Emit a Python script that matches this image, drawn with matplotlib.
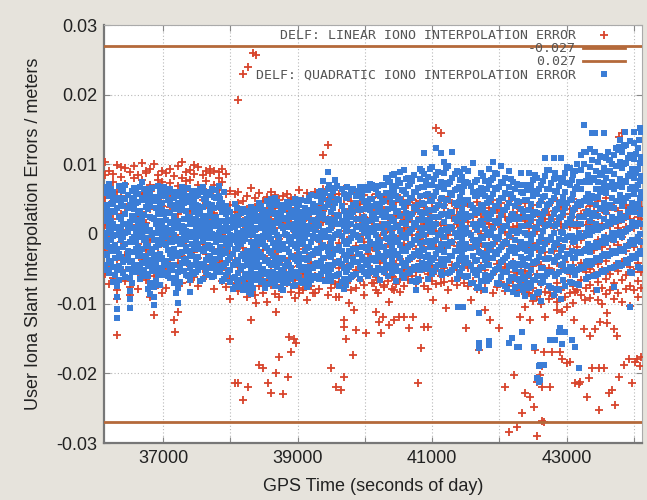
import matplotlib
matplotlib.use("Agg")
import matplotlib.pyplot as plt

# === Data (errors in millimetres, times in GPS seconds of day) ===
epochs = [
    36140, 36200, 36255, 36320, 36380, 36440, 36500, 36565, 36620, 36680, 36745, 36800, 36860, 36925, 36985,
    37040, 37100, 37165, 37220, 37280, 37340, 37405, 37460, 37520, 37585, 37640, 37700, 37760, 37825, 37880,
    37940, 38000, 38065, 38120, 38180, 38245, 38300, 38360, 38420, 38485, 38540, 38600, 38660, 38725, 38780,
    38840, 38900, 38965, 39020, 39080, 39140, 39205, 39260, 39320, 39380, 39445, 39500, 39560, 39620, 39685,
    39740, 39800, 39860, 39925, 39980, 40040, 40100, 40165, 40220, 40280, 40340, 40405, 40460, 40520, 40580,
    40645, 40700, 40760, 40820, 40885, 40940, 41000, 41060, 41125, 41180, 41240, 41300, 41365, 41420, 41480,
    41540, 41605, 41660, 41720, 41780, 41845, 41900, 41960, 42020, 42085, 42140, 42200, 42260, 42325, 42380,
    42440, 42500, 42565, 42620, 42680, 42740, 42805, 42860, 42920, 42980, 43045, 43100, 43160, 43220, 43285,
    43340, 43400, 43460, 43525, 43580, 43640, 43700, 43765, 43820, 43880, 43940, 44005, 44060, 44110,
]

quad_mm = [
    [6.8, 4.1, 1.9, -0.6, -2.8, -4.5, 3.0, -1.7], [5.5, 2.7, 0.4, -1.9, -3.9, 7.2, -5.6, 1.2],
    [4.6, 6.1, -0.3, -2.4, 1.5, -4.8, -6.9, 3.3], [3.8, 1.0, -2.1, -5.2, -7.4, -9.1, -10.8, -12.0],
    [6.3, 4.4, 2.2, -0.9, -3.3, 0.8, -5.0, 5.2], [5.0, 2.9, 0.1, -1.5, -3.7, -6.2, 7.0, 1.4],
    [4.2, 1.7, -1.1, -4.0, -6.3, -8.2, -9.4, -10.6], [6.6, 3.6, 0.9, -2.6, -4.9, 2.3, -0.4, 5.1],
    [5.8, 3.0, -0.2, -1.8, -3.1, -5.5, 4.6, 1.1], [7.4, 4.9, 2.4, 0.3, -2.2, -4.2, -6.0, 1.6],
    [3.9, 1.2, -1.4, -3.5, 5.6, -0.6, -5.7, 6.4], [6.0, 4.0, 0.6, -2.7, -4.6, -7.1, -8.6, 2.5],
    [4.8, 2.1, -0.8, -3.0, -5.3, -7.6, -9.0, -10.2], [5.3, 2.8, 0.2, -1.6, -3.6, 6.9, -5.9, 1.0],
    [6.4, 3.4, 1.4, -1.2, -3.4, -4.9, 4.5, -0.1],
    [5.7, 3.2, 0.8, -1.6, -3.9, -5.6, 2.0, -0.5], [6.5, 4.3, 1.6, -0.8, -2.9, -4.8, 3.0, -6.3],
    [5.1, 2.6, -0.1, -2.2, -4.4, -7.0, 1.2, 3.9], [4.4, 1.9, -0.7, -3.1, -5.4, -7.8, -9.9, 6.0],
    [6.8, 3.7, 1.1, -1.3, -2.6, -4.1, 0.3, 5.2], [5.4, 3.3, 0.5, -1.9, -3.6, -5.9, 2.1, -0.9],
    [4.9, 2.3, -0.3, -2.8, -4.9, -6.6, -8.3, 1.5], [6.2, 4.6, 1.8, -0.4, -2.1, -4.5, 3.1, -5.8],
    [5.6, 2.9, 0.4, -1.4, -3.3, -5.2, 1.0, 4.0], [6.7, 3.9, 1.3, -1.0, -2.5, -4.7, -6.4, 2.4],
    [4.7, 2.2, -0.2, -2.0, -3.8, -5.5, 5.8, 0.9], [6.1, 3.5, 0.7, -1.7, -3.2, -4.9, 2.6, -0.6],
    [5.3, 2.0, -0.5, -2.6, -4.3, -6.1, 3.7, 1.1], [6.9, 4.2, 1.5, -0.9, -2.4, -4.6, 0.2, 5.5],
    [4.5, 1.8, -0.6, -2.9, -4.7, -6.8, 3.2, 0.5],
    [4.0, 1.6, -0.8, -2.5, -4.2, -5.9, 2.8, -1.5], [3.1, 0.9, -1.4, -3.3, -5.1, -6.9, 1.8, -0.2],
    [4.3, 2.0, -0.3, -2.2, -4.0, -6.2, -7.6, 1.0], [2.6, 0.2, -1.9, -3.8, -5.6, -7.1, 1.3, -0.9],
    [3.6, 1.4, -1.0, -2.9, -4.6, -6.5, -8.1, 0.4], [2.2, -0.1, -2.4, -4.1, -5.8, -7.4, 3.3, 1.1],
    [3.9, 1.1, -1.2, -3.5, -5.3, -7.0, -8.6, 0.0], [2.9, 0.6, -1.6, -3.0, -4.8, -6.6, 1.9, -2.3],
    [4.4, 2.2, -0.4, -2.6, -4.4, -6.0, 0.8, -1.4], [3.4, 1.0, -1.1, -3.3, -5.0, -6.8, 2.4, -0.3],
    [4.8, 2.5, 0.1, -2.0, -3.7, -5.5, 1.3, -7.2], [3.7, 1.5, -0.7, -2.7, -4.5, -6.3, 5.0, 0.4],
    [5.2, 2.8, 0.3, -1.8, -3.9, -5.7, -7.5, 1.6], [4.1, 1.9, -0.5, -2.3, -4.1, -6.4, 3.0, -1.2],
    [3.5, 0.8, -1.5, -3.4, -5.2, -6.9, -8.0, 2.1],
    [4.6, 2.1, -0.2, -2.2, -4.0, -5.8, 1.0, -7.1], [3.3, 1.2, -1.3, -3.1, -4.9, -6.5, 2.5, -0.4],
    [5.0, 2.7, 0.4, -1.7, -3.6, -5.4, -7.3, 1.5], [4.2, 1.6, -0.9, -2.8, -4.5, -6.2, 3.1, 0.2],
    [3.0, 0.7, -1.5, -3.4, -5.2, -7.0, 1.9, -0.6], [4.7, 2.4, 0.0, -2.0, -3.8, -5.9, 1.2, -7.6],
    [5.6, 3.4, 1.0, -1.1, -3.0, -4.8, -6.6, 2.0], [4.0, 1.8, -0.6, -2.5, -4.3, -6.1, 3.2, 0.6],
    [6.1, 3.6, 1.2, -0.9, -2.7, -4.6, -6.4, 2.3], [5.1, 2.9, 0.5, -1.6, -3.5, -5.3, 7.6, -0.4],
    [6.4, 4.2, 1.7, -0.5, -2.4, -4.4, 8.9, -6.2], [5.4, 3.1, 0.8, -1.3, -3.3, -5.0, -6.8, 1.9],
    [6.6, 4.5, 2.0, -0.2, -2.1, -4.1, -6.0, 7.7], [4.9, 2.6, 0.3, -1.9, -3.9, -5.7, -7.4, 1.4],
    [5.8, 3.3, 1.1, -1.0, -3.0, -4.9, -6.5, -7.9],
    [5.2, 3.0, 0.6, -1.4, -3.2, -5.1, 6.7, 1.7], [6.0, 3.7, 1.4, -0.6, -2.6, -4.5, -6.2, 2.5],
    [4.4, 2.2, -0.1, -2.1, -4.0, -5.8, 1.0, 5.5], [5.7, 3.4, 1.2, -0.8, -2.8, -4.7, 6.8, -6.4],
    [4.8, 2.5, 0.2, -1.8, -3.7, -5.5, 1.6, 3.6], [6.3, 4.1, 1.8, -0.3, -2.3, -4.2, -6.0, 0.9],
    [5.0, 2.8, 0.5, -1.5, -3.4, -5.3, 7.1, 2.0], [6.5, 4.3, 2.1, -0.1, -2.0, -3.9, -5.7, 1.1],
    [5.4, 3.1, 0.9, -1.2, -3.1, -5.0, 3.9, -6.6], [7.0, 4.7, 2.4, 0.2, -1.8, -3.6, -5.4, 1.5],
    [5.9, 3.6, 1.3, -0.7, -2.7, -4.6, 7.8, -6.1], [6.8, 4.5, 2.2, 0.0, -2.0, -3.9, -5.6, 8.4],
    [5.5, 3.2, 1.0, -1.1, -3.0, -4.8, 6.9, -6.7], [7.3, 5.0, 2.6, 0.4, -1.6, -3.5, 8.9, -5.3],
    [6.2, 3.9, 1.6, -0.5, -2.5, -4.4, -6.3, 9.2],
    [6.9, 4.6, 2.3, 0.1, -1.9, -3.8, -5.6, 8.1], [7.6, 5.2, 2.9, 0.7, -1.4, -3.3, -5.2, -6.8],
    [6.0, 3.6, 1.3, -0.9, -3.0, -5.0, -6.9, -8.1], [7.9, 5.5, 3.1, 0.8, -1.3, -3.2, -5.1, 9.4],
    [6.7, 4.3, 2.0, -0.2, -2.3, -4.3, 11.6, 8.6], [8.2, 5.8, 3.4, 1.1, -1.0, -3.0, -4.9, -6.5],
    [7.1, 4.8, 2.5, 0.3, -1.8, -3.8, -5.7, 9.6], [8.5, 6.1, 3.7, 1.4, -0.8, -2.8, 12.3, -4.7],
    [7.4, 5.0, 2.7, 0.4, -1.7, -3.6, 11.6, -5.5], [8.8, 6.4, 4.0, 1.7, -0.5, -2.6, -4.5, 10.3],
    [7.2, 4.9, 2.6, 0.4, -1.7, -3.7, 9.7, -5.6], [8.0, 5.6, 3.2, 0.9, -1.2, -3.2, 11.8, -5.1],
    [6.5, 4.1, 1.8, -0.4, -2.5, -4.5, 9.0, -6.4], [7.7, 5.3, 2.9, 0.6, -1.5, -3.5, -5.4, 8.9],
    [6.9, 4.5, 2.2, 0.0, -2.1, -4.1, 9.4, -6.0],
    [7.3, 4.9, 2.5, 0.2, -2.0, -4.1, -6.1, 9.1], [6.1, 3.7, 1.4, -0.9, -3.1, -5.2, 10.2, -7.0],
    [7.8, 5.4, 3.0, 0.6, -1.7, -3.8, -5.9, -7.7], [6.6, 4.2, 1.8, -0.5, -2.7, -4.8, 8.7, -6.8],
    [5.4, 3.0, 0.7, -1.6, -3.8, -5.9, 7.6, -8.0], [7.0, 4.6, 2.2, -0.1, -2.3, -4.4, -6.5, 9.3],
    [8.1, 5.7, 3.3, 0.9, -1.4, -3.5, 10.3, -5.6], [6.4, 4.0, 1.6, -0.7, -2.9, -5.0, -7.1, 8.6],
    [7.5, 5.1, 2.7, 0.4, -1.9, -4.0, 9.8, -6.2], [5.9, 3.5, 1.1, -1.2, -3.4, -5.5, -7.5, 8.0],
    [6.8, 4.4, 2.0, -0.3, -2.5, -4.6, -6.7, 9.0], [5.2, 2.8, 0.4, -1.9, -4.1, -6.2, 7.4, -8.3],
    [7.2, 4.8, 2.4, 0.1, -2.2, -4.3, -6.4, -8.6], [6.0, 3.6, 1.2, -1.1, -3.3, -5.4, 8.8, -7.4],
    [4.9, 2.5, 0.1, -2.2, -4.4, -6.5, 7.0, -8.9],
    [6.3, 3.5, 1.3, -1.4, -3.4, -5.9, -7.7, 8.7], [7.7, 5.5, 2.7, 0.0, -2.0, -4.2, -6.6, -9.1],
    [5.8, 3.0, 0.8, -1.9, -3.9, -6.1, 8.1, -8.4], [7.0, 4.8, 2.0, -0.4, -2.4, -4.9, -7.0, -9.6],
    [8.3, 5.5, 3.3, 1.2, -1.4, -3.6, 10.9, -6.0], [6.5, 4.3, 1.5, -0.9, -3.5, -5.4, -7.5, 9.2],
    [7.9, 5.1, 2.9, 0.2, -1.8, -4.0, 10.9, -8.7], [6.1, 3.6, 1.4, -1.3, -3.3, -5.8, -7.9, 8.0],
    [7.4, 4.6, 2.4, 0.3, -2.3, -4.5, 10.9, -9.3], [8.8, 6.0, 3.8, 1.1, -0.9, -3.4, -5.2, -7.4],
    [7.1, 4.9, 2.1, -0.3, -2.9, -4.8, 9.5, -6.9], [8.5, 5.7, 3.5, 1.4, -1.2, -3.4, 9.0, -5.5],
    [6.8, 4.3, 1.5, -0.6, -2.6, -5.1, -7.2, 10.1], [9.2, 6.4, 4.2, 1.5, -0.5, -2.7, -4.8, 11.3],
    [7.6, 5.1, 2.9, 0.2, -2.1, -4.0, 11.8, -6.4],
    [9.6, 7.4, 4.6, 1.9, -0.1, -2.6, -4.4, 12.2], [8.0, 5.2, 3.0, 0.9, -1.7, -3.9, 11.8, -6.0],
    [10.3, 7.5, 5.3, 2.6, 0.6, -1.9, -3.7, -5.8], [8.7, 6.5, 3.7, 1.0, -1.0, -3.2, 11.1, -5.3],
    [10.9, 8.1, 5.9, 3.2, 1.2, -1.3, -3.1, -5.2], [9.1, 6.9, 4.1, 1.4, -0.6, -2.8, 10.6, -4.9],
    [11.4, 8.6, 6.4, 3.7, 1.7, -0.8, -2.6, -4.7], [9.8, 7.0, 4.8, 2.1, 0.1, -2.4, 12.0, -4.2],
    [11.7, 9.5, 6.7, 4.0, 2.0, -0.5, -2.3, -4.4], [10.2, 7.4, 5.2, 2.5, 0.5, -1.7, 12.8, -3.8],
    [8.6, 6.4, 3.6, 0.9, -1.1, -3.6, 11.3, -5.4], [10.8, 8.0, 5.8, 3.1, 1.1, -1.4, -3.2, 13.1],
    [9.3, 7.1, 4.3, 1.6, -0.4, -2.9, 12.4, -4.8], [11.1, 8.3, 6.1, 3.4, 1.4, -1.1, -2.9, 14.6],
]

# second set of quadratic-error epochs, between the ones above
epochs_b = [
    36170, 36228, 36288, 36350, 36410, 36470, 36532, 36592, 36650, 36712, 36772, 36830, 36892, 36955, 37012,
    37070, 37132, 37192, 37250, 37310, 37372, 37432, 37490, 37552, 37612, 37670, 37730, 37792, 37852, 37910,
    37970, 38032, 38092, 38150, 38212, 38272, 38330, 38390, 38452, 38512, 38570, 38630, 38692, 38752, 38810,
    38870, 38932, 38992, 39050, 39110, 39172, 39232, 39290, 39350, 39412, 39472, 39530, 39590, 39652, 39712,
    39770, 39830, 39892, 39952, 40010, 40070, 40132, 40192, 40250, 40310, 40372, 40432, 40490, 40550, 40612,
    40672, 40730, 40790, 40852, 40912, 40970, 41030, 41092, 41152, 41210, 41270, 41332, 41392, 41450, 41510,
    41572, 41632, 41690, 41750, 41812, 41872, 41930, 41990, 42052, 42112, 42170, 42230, 42292, 42352, 42410,
    42470, 42532, 42592, 42650, 42710, 42772, 42832, 42890, 42950, 43012, 43072, 43130, 43190, 43252, 43312,
    43370, 43430, 43492, 43552, 43610, 43670, 43732, 43792, 43850, 43910, 43972, 44032, 44085,
]

quad_mm_b = [
    [5.9, 3.5, 0.2, -1.3, -3.0, -5.1, 2.4], [6.4, 1.8, -0.9, -2.5, -4.2, 4.3, 0.6],
    [3.1, 5.2, -1.6, -3.4, -5.9, 0.9, -0.2], [6.9, 2.5, 0.0, -2.9, -4.6, -6.6, 4.9],
    [4.0, 1.4, -0.5, -1.9, -4.0, -5.6, 6.2], [5.6, 3.8, 1.1, -2.4, -3.3, -5.0, 0.3],
    [6.2, 4.7, 2.6, -0.7, -3.9, -5.4, -7.0], [4.4, 2.0, -1.2, -2.2, -4.4, 6.0, 0.5],
    [6.7, 3.3, 1.7, -0.4, -2.6, -4.8, -6.4], [5.1, 2.7, -0.8, -3.2, -5.2, 6.5, 0.8],
    [4.7, 3.6, 0.4, -1.7, -4.3, -6.1, -7.9], [6.6, 2.3, -0.1, -2.1, -3.7, 5.3, -5.2],
    [3.7, 1.5, -1.9, -4.5, -6.7, 5.0, 0.2], [6.0, 4.2, 1.9, -0.9, -2.8, -5.0, -7.3],
    [5.4, 2.9, 0.7, -1.5, -4.1, -5.9, 6.8],
    [4.9, 3.0, 0.1, -2.3, -4.5, 6.2, -6.0], [6.0, 1.7, -1.2, -3.5, -5.1, 4.1, 0.6],
    [5.5, 3.6, 0.9, -1.0, -3.0, -6.3, -8.4], [3.5, 1.2, -1.5, -2.7, -4.8, 5.9, -6.9],
    [6.3, 4.4, 2.2, -0.5, -3.7, -5.3, 1.0], [4.6, 2.4, -0.4, -2.4, -4.1, 6.6, -6.1],
    [5.8, 3.9, 1.5, -1.4, -3.1, -5.7, 0.3], [4.2, 2.1, -0.8, -3.6, -5.5, 5.4, 0.7],
    [6.5, 3.3, 1.9, -0.3, -2.2, -4.3, -6.7], [5.0, 2.6, -0.6, -2.5, -4.6, 6.1, 0.5],
    [4.3, 1.6, 0.2, -1.6, -3.4, -5.9, 5.6], [6.4, 4.1, 1.2, -2.2, -4.0, -6.2, 0.0],
    [5.2, 2.5, -0.1, -1.2, -3.6, -5.1, 6.3], [3.9, 1.9, -1.8, -3.3, -5.4, 5.0, 0.8],
    [6.1, 3.7, 0.9, -0.8, -2.7, -4.4, -6.5],
    [3.4, 0.5, -1.9, -3.7, -5.5, 2.0, -0.6], [2.5, 1.2, -0.9, -2.8, -4.4, -6.3, -7.9],
    [3.8, 0.1, -2.2, -4.3, -6.6, 1.6, -1.1], [1.9, -0.5, -1.5, -3.1, -5.0, -7.6, 3.0],
    [3.1, 1.7, -0.7, -3.6, -5.9, -7.3, 0.3], [2.7, 0.3, -2.8, -4.5, -6.2, -8.3, 1.5],
    [3.5, 2.0, -0.2, -2.0, -4.0, -6.1, -7.7], [2.1, -0.8, -2.5, -3.9, -5.7, 3.6, 0.8],
    [4.0, 1.3, -1.0, -3.0, -5.1, -6.9, 2.6], [2.8, 0.4, -1.7, -3.9, -5.8, -7.7, 1.9],
    [4.3, 1.9, -0.5, -2.4, -4.2, -6.0, 3.2], [3.0, 0.9, -1.3, -3.2, -5.4, -7.0, 4.2],
    [4.6, 2.4, -0.1, -1.5, -3.4, -4.8, -6.6], [3.6, 1.1, -1.9, -3.6, -5.6, -7.8, 2.7],
    [4.1, 2.3, 0.0, -2.1, -4.6, -6.3, 1.0],
    [3.9, 1.3, -1.0, -2.6, -4.4, -6.4, 2.7], [4.5, 2.9, 0.7, -1.4, -3.3, -5.7, -7.5],
    [3.6, 0.9, -2.0, -3.9, -6.0, 2.2, -0.3], [4.9, 2.5, 0.2, -1.3, -3.6, -5.1, -6.9],
    [3.8, 1.1, -0.6, -2.4, -4.7, -6.7, 2.6], [5.2, 3.0, 0.9, -1.9, -3.4, -5.5, -7.2],
    [4.3, 2.0, -0.3, -2.9, -4.9, 0.7, -6.3], [5.5, 3.4, 1.5, -0.5, -2.2, -4.2, -6.0],
    [4.6, 2.6, 0.1, -2.0, -3.9, -5.8, 6.2], [5.9, 3.9, 2.2, -0.1, -1.9, -4.7, -6.8],
    [4.8, 2.2, 0.6, -1.8, -3.1, -5.6, 7.0], [6.2, 3.8, 1.5, -0.6, -2.8, -4.5, -6.1],
    [5.0, 2.7, 0.0, -2.3, -4.1, -5.9, 6.9], [6.5, 4.0, 1.9, -0.3, -2.5, -4.3, -6.9],
    [5.3, 2.4, 0.5, -1.5, -3.8, -5.5, -7.3],
    [5.6, 2.9, 1.4, -1.0, -2.5, -4.8, -6.5], [4.2, 3.1, 0.3, -2.2, -3.6, -5.9, 6.4],
    [6.2, 3.6, 2.1, -0.4, -2.9, -4.0, 1.1], [5.1, 2.2, 0.7, -1.8, -3.3, -5.2, 5.9],
    [6.8, 4.3, 1.5, 0.4, -2.0, -4.4, -5.8], [5.0, 3.4, 0.8, -1.2, -3.7, -5.0, 7.2],
    [6.6, 4.0, 2.9, 0.3, -1.4, -3.6, -5.4], [5.7, 3.5, 0.9, -0.8, -2.8, -4.9, 6.9],
    [7.1, 4.6, 2.7, 1.0, -1.9, -3.3, -5.2], [5.9, 3.2, 1.4, -0.6, -2.6, -4.5, 8.0],
    [7.4, 5.3, 2.4, 0.9, -1.1, -3.0, -4.9], [6.1, 3.8, 1.9, -0.5, -2.4, -4.6, 8.6],
    [7.7, 5.0, 3.3, 1.2, -0.9, -2.8, -5.3], [6.3, 4.4, 1.6, -0.2, -2.2, -4.1, -5.9],
    [7.9, 5.8, 3.0, 1.4, -0.6, -2.5, -4.6],
    [7.2, 5.1, 2.6, 0.5, -1.6, -3.5, -5.5], [8.4, 6.0, 3.9, 1.6, -0.9, -2.9, -4.8],
    [6.6, 4.2, 2.0, -0.3, -2.4, -4.6, -6.4], [9.0, 6.7, 4.4, 2.3, 0.0, -2.1, -4.2],
    [7.6, 5.6, 3.0, 0.9, -1.2, -3.3, -5.0], [9.3, 7.0, 4.8, 2.0, 0.4, -1.8, -4.0],
    [7.9, 5.4, 3.5, 1.2, -1.0, -3.4, -5.3], [8.9, 6.8, 4.1, 2.5, -0.2, -2.3, -4.4],
    [7.0, 5.2, 2.8, 0.6, -1.5, -3.9, -5.9], [9.5, 7.3, 4.9, 2.8, 0.7, -1.4, -3.6],
    [7.5, 5.9, 3.2, 1.0, -1.1, -3.1, -5.4], [8.6, 6.3, 4.5, 2.1, 0.1, -2.5, -4.6],
    [6.8, 4.6, 2.4, 0.2, -1.9, -3.8, -5.8], [8.2, 6.1, 3.6, 1.5, -0.7, -2.7, -4.9],
    [7.4, 4.9, 2.9, 0.8, -1.4, -3.5, -6.2],
    [6.9, 4.1, 2.6, -0.2, -2.0, -4.6, -7.1], [7.5, 5.5, 3.0, 1.2, -1.2, -3.9, -5.6],
    [6.2, 3.4, 1.5, -0.9, -2.6, -5.2, -7.6], [8.3, 5.7, 3.9, 1.3, -0.6, -3.1, -4.8],
    [6.5, 4.4, 2.3, -0.1, -2.9, -4.5, -6.8], [7.8, 5.1, 2.8, 0.3, -1.6, -3.4, -6.0],
    [8.7, 6.6, 4.0, 1.9, -0.5, -2.6, -5.2], [6.8, 4.7, 1.8, -0.5, -2.3, -4.8, -7.2],
    [7.3, 5.2, 3.4, 0.8, -1.4, -3.7, -5.5], [5.7, 3.9, 1.2, -1.3, -3.2, -5.5, -7.9],
    [7.9, 5.8, 2.6, 0.5, -1.9, -4.3, -6.3], [6.4, 4.0, 2.1, -0.9, -2.7, -5.0, -7.6],
    [7.1, 4.6, 2.2, 0.4, -2.0, -4.4, -6.6], [5.9, 3.3, 1.1, -1.4, -3.6, -6.2, -8.1],
    [6.7, 4.9, 2.4, -0.2, -2.5, -4.6, -7.0],
    [7.1, 4.3, 2.0, -0.8, -2.9, -5.2, -7.4], [8.4, 6.2, 3.1, 0.8, -1.9, -4.0, -6.6],
    [6.4, 4.1, 1.7, -1.2, -3.3, -6.0, -8.3], [7.6, 5.3, 2.8, 0.5, -2.2, -4.9, -6.9],
    [9.2, 6.4, 4.1, 1.3, -0.9, -3.6, -5.7], [7.3, 4.8, 2.2, -0.4, -2.5, -5.5, -7.7],
    [8.8, 6.2, 3.4, 1.1, -1.3, -3.8, -6.1], [6.9, 4.4, 2.3, -0.7, -3.1, -5.4, -8.0],
    [8.1, 5.3, 3.0, 0.2, -1.9, -4.3, -6.6], [9.6, 7.3, 4.5, 1.6, -0.5, -2.9, -5.3],
    [7.7, 5.0, 2.6, -0.3, -2.4, -4.8, -7.1], [9.0, 6.5, 3.7, 1.4, -1.0, -3.4, -5.9],
    [7.5, 4.6, 2.4, 0.1, -2.6, -5.0, -7.3], [10.1, 7.5, 4.7, 2.4, -0.3, -2.4, -4.9],
    [8.5, 5.7, 3.3, 0.9, -1.5, -3.9, -6.2],
    [10.6, 7.7, 5.4, 2.6, 0.5, -1.9, -4.3], [9.0, 6.4, 4.2, 1.4, -1.3, -3.5, -5.9],
    [11.2, 8.4, 6.1, 3.6, 0.8, -1.3, -3.8], [9.5, 7.3, 4.4, 2.2, -0.5, -2.9, -5.4],
    [11.8, 9.0, 6.7, 3.9, 1.7, -0.7, -3.2], [10.0, 7.5, 5.2, 2.4, 0.2, -2.5, -4.9],
    [12.3, 9.8, 6.9, 4.7, 1.9, -0.2, -2.7], [10.4, 7.9, 5.6, 2.8, 0.3, -2.1, -4.6],
    [12.7, 10.1, 7.6, 4.7, 2.5, 0.3, -2.4], [10.9, 8.3, 5.5, 3.2, 0.7, -1.7, -4.2],
    [9.3, 6.8, 4.5, 1.7, -0.8, -3.2, -5.6], [11.5, 8.7, 6.4, 3.9, 1.1, -1.0, -3.5],
    [10.2, 7.6, 5.1, 2.8, 0.0, -2.4, -4.9],
]

lin_mm = [
    [10.3, 8.4, 5.2, 1.3, -2.5, -5.8], [9.1, 6.7, 3.4, -0.8, -4.4, -7.2], [8.6, 7.5, 2.1, -1.9, -6.3, 4.8],
    [9.9, 6.1, 0.6, -3.7, -8.1, -9.3], [8.2, 5.5, 2.9, -1.2, -5.1, 9.6], [9.5, 7.2, 3.8, 0.2, -3.0, -6.8],
    [8.9, 4.3, 1.0, -2.7, -7.6, -8.8], [9.8, 8.0, 4.6, 0.9, -4.1, 6.2], [8.4, 6.4, 2.5, -1.5, -5.4, -7.9],
    [10.2, 7.7, 3.1, -0.4, -3.8, 5.7], [8.7, 5.9, 1.6, -2.3, -6.6, 9.0], [9.3, 7.0, 3.6, -0.9, -4.7, -9.0],
    [10.0, 6.6, 2.2, -3.4, -6.0, -11.6], [8.5, 5.0, 1.1, -1.8, -7.3, 7.8], [9.0, 7.4, 4.0, 0.5, -4.9, -8.4],
    [8.8, 6.0, 2.7, -1.1, -5.3, -7.7], [9.4, 7.3, 3.9, 0.1, -3.6, 5.1], [8.3, 5.6, 1.8, -2.4, -6.5, -12.3],
    [9.7, 6.9, 2.9, -0.6, -4.2, -11.2], [10.3, 8.1, 4.4, 0.8, -3.1, -7.0], [8.9, 6.2, 2.3, -1.7, -5.6, 7.6],
    [9.2, 7.8, 3.3, -0.2, -4.6, -6.9], [8.6, 5.3, 1.4, -2.6, -6.2, 9.9], [9.6, 7.1, 3.7, 0.3, -3.4, -7.4],
    [8.4, 6.5, 2.0, -1.4, -5.0, 4.9], [9.0, 7.6, 4.2, 0.6, -2.9, -6.1], [8.7, 5.8, 2.6, -1.9, -4.5, 9.3],
    [9.1, 7.0, 3.0, -0.7, -5.7, -7.9], [8.9, 6.3, 1.7, -2.1, -4.0, 8.0], [9.3, 7.5, 3.5, 0.0, -3.9, -6.7],
    [8.6, 5.8, 2.2, -1.8, -5.2, -7.6], [6.2, 4.1, 0.7, -2.9, -6.4, -9.4], [5.7, 3.2, -0.6, -3.8, -7.1, 2.0],
    [6.0, 2.6, -1.3, -4.7, -8.2, 4.4], [4.8, 1.9, -2.0, -5.5, -6.8, 0.5], [5.5, 3.6, 0.2, -3.2, -6.9, -9.0],
    [6.6, 2.9, -0.9, -4.3, -7.7, 1.2], [5.1, 3.9, 0.4, -2.7, -6.0, -8.8], [5.9, 2.4, -1.7, -4.9, -7.4, 4.0],
    [4.7, 1.5, -2.3, -5.8, -8.4, 3.0], [5.3, 3.4, -0.3, -3.6, -6.7, -9.7], [6.1, 2.1, -1.0, -4.4, -7.3, 4.8],
    [5.6, 3.7, 0.9, -2.8, -6.2, -8.6], [4.9, 2.8, -0.7, -4.0, -7.8, 1.6], [5.4, 1.7, -1.9, -5.2, -6.5, 3.8],
    [5.8, 3.1, -0.4, -3.9, -7.0, 1.4], [4.6, 2.3, -1.2, -4.8, -8.3, 5.2], [5.2, 3.8, 0.3, -3.1, -6.6, -9.2],
    [6.3, 2.7, -1.5, -4.6, -7.7, 0.9], [5.0, 1.8, -2.2, -5.7, -8.0, 3.5], [5.9, 3.5, 0.0, -3.4, -6.8, -9.5],
    [4.4, 2.0, -0.8, -4.2, -7.4, 5.6], [6.0, 3.9, 0.6, -2.9, -6.1, -8.5], [5.5, 2.5, -1.0, -4.5, -7.9, 4.1],
    [6.4, 3.3, -0.2, -3.7, -6.3, 1.7], [5.1, 2.2, -1.6, -5.0, -8.7, 4.7], [6.2, 4.0, 0.8, -2.6, -5.9, -7.8],
    [4.9, 2.6, -0.5, -4.1, -7.2, 5.8], [5.7, 3.0, -1.3, -4.9, -6.9, -9.0], [6.5, 4.3, 0.4, -3.3, -7.5, 1.9],
    [5.4, 2.8, -0.9, -4.4, -7.1, 1.0], [4.7, 3.6, 0.2, -3.0, -6.3, -8.1], [5.9, 2.1, -1.7, -5.2, -7.8, 4.0],
    [4.3, 3.1, -0.4, -3.8, -6.6, 1.5], [5.6, 2.4, -1.1, -4.7, -7.3, -8.8], [4.9, 3.7, 0.5, -2.8, -5.9, 1.9],
    [5.2, 1.9, -1.8, -5.0, -7.0, 3.4], [5.8, 4.2, 0.9, -2.4, -6.2, -8.0], [4.5, 2.9, -0.6, -4.1, -6.9, 1.3],
    [5.3, 3.4, 0.1, -3.5, -5.5, -7.6], [4.8, 2.2, -1.4, -4.6, -6.7, 0.7], [5.5, 3.9, 0.6, -2.9, -6.0, -7.9],
    [4.6, 2.6, -0.8, -4.3, -7.2, 1.6], [5.1, 3.2, -0.3, -3.6, -6.4, -8.3], [4.4, 2.0, -1.6, -5.1, -7.5, 0.8],
    [4.2, 1.8, -1.5, -4.8, -6.6, 0.6], [5.0, 2.9, -0.2, -3.4, -6.0, 1.7], [3.6, 1.2, -2.1, -5.4, -7.0, 4.4],
    [4.7, 2.5, -0.7, -3.9, -6.3, 0.3], [3.9, 1.4, -1.9, -5.0, -7.4, 2.2], [5.2, 3.0, 0.1, -3.1, -5.8, -7.9],
    [4.4, 2.1, -1.1, -4.5, -6.8, 1.0], [3.7, 1.6, -1.8, -5.3, -7.2, 0.4], [4.9, 2.7, -0.4, -3.7, -6.1, 1.3],
    [4.1, 1.3, -2.0, -4.9, -6.9, 3.0], [5.3, 3.1, -0.1, -3.3, -5.6, -8.0], [4.5, 2.3, -1.2, -4.4, -6.7, 0.9],
    [3.8, 1.5, -1.7, -5.1, -7.3, 2.7], [4.8, 2.6, -0.6, -3.8, -6.2, 1.1], [4.0, 1.9, -1.4, -4.6, -7.1, 0.2],
    [4.3, 1.7, -1.6, -4.9, -7.4, 0.5], [3.5, 2.4, -0.9, -4.2, -6.8, 1.2], [4.6, 1.1, -2.2, -5.5, -7.9, 2.9],
    [3.2, 2.0, -1.3, -4.6, -8.1, 0.0], [4.1, 1.6, -1.9, -5.2, -7.0, 2.5], [3.8, 2.7, -0.5, -3.8, -6.5, 1.4],
    [4.9, 1.4, -2.4, -5.8, -8.5, 0.7], [3.4, 2.2, -1.0, -4.3, -7.6, 1.8], [4.4, 1.0, -2.0, -5.0, -6.9, 3.1],
    [3.6, 2.5, -1.2, -4.7, -8.2, 0.3], [4.7, 1.8, -1.7, -5.4, -7.5, 2.2], [3.1, 2.3, -0.7, -4.0, -6.7, 1.0],
    [4.0, 1.2, -2.3, -5.6, -8.0, 2.6], [3.3, 2.6, -1.4, -4.8, -7.1, 0.8], [4.5, 1.5, -1.8, -5.3, -8.6, 1.9],
    [3.7, 0.9, -2.5, -5.9, -8.4, 1.6], [4.2, 2.0, -1.3, -4.6, -7.7, -9.6], [3.0, 1.3, -2.1, -5.7, -8.9, 0.4],
    [4.6, 2.4, -0.8, -4.4, -7.2, -10.0], [3.5, 1.1, -2.6, -6.0, -8.3, 2.1], [4.1, 2.7, -1.0, -4.9, -7.6, -9.4],
    [3.3, 0.8, -2.4, -5.5, -8.7, 1.4], [4.8, 2.2, -1.5, -4.2, -7.0, -9.8], [3.9, 1.5, -1.9, -5.3, -8.1, 0.6],
    [4.4, 2.9, -0.6, -4.0, -6.8, -9.1], [3.6, 1.0, -2.2, -5.8, -8.5, 1.9], [5.0, 2.5, -1.2, -4.5, -7.4, -9.9],
    [3.8, 1.7, -1.8, -5.1, -8.0, 0.9], [4.5, 2.8, -0.9, -4.1, -6.6, -8.8], [3.4, 1.3, -2.0, -5.4, -7.8, 0.5],
    [4.0, 1.9, -1.7, -5.0, -7.3, -9.2], [3.2, 0.7, -2.3, -5.6, -8.2, 1.5], [4.7, 2.6, -0.8, -4.3, -6.9, -9.5],
    [3.6, 1.4, -1.9, -5.2, -7.7, -10.1], [5.1, 3.0, -0.3, -3.9, -6.4, -8.6], [3.9, 1.1, -2.1, -5.7, -8.0, 2.0],
    [4.4, 2.3, -1.1, -4.6, -7.1, -9.3], [3.3, 1.6, -1.6, -5.3, -8.4, 0.8], [4.9, 2.8, -0.5, -4.0, -6.6, -9.7],
    [3.7, 1.0, -2.4, -5.9, -7.9, 2.4], [4.2, 2.1, -1.3, -4.8, -7.5, -10.3], [3.5, 1.8, -1.8, -5.4, -8.1, 0.9],
    [4.6, 2.5, -0.7, -4.2, -6.8, -9.0], [3.9, 1.2, -2.2, -5.5, -7.7, 2.2],
]

# isolated linear-interpolation outliers
lin_out_t = [
    36310, 37180, 38000, 38075, 38120, 38180, 38255, 38330, 38375,
    38375, 38300, 38673, 38718, 39016, 39225, 38867, 38942, 38972, 38718, 38897,
    38419, 38479, 38673, 38852, 38554, 38120, 38255, 38598, 38778, 38180,
    39494, 39569, 39643, 39688, 39823, 39718, 39688, 39688, 39867, 40017,
    39763, 39838, 39569, 38569, 38180, 39375, 39450,
    40136, 40285, 40420, 40435, 40196, 40360, 40166, 40271, 40210, 40360,
    40435, 40510, 40584, 40718, 40241, 40659, 40883, 40942, 40838, 40793,
    41017, 41136, 41211, 41510, 41584, 41778, 41853, 41987, 41689, 42077,
    42137, 41062, 41136,
    42256, 42331, 42376, 42450, 42510, 42211, 42555, 42660, 42630, 42750,
    42555, 42600, 42630, 42660, 42779, 42898, 42525, 42928, 43003, 43048,
    43122, 43182, 43301, 43480, 43630, 43675, 43719, 43973, 43779, 43376,
    43480, 43555, 43331, 43854, 43928, 44048, 44093, 43197, 42853, 42928,
    43003, 43107, 43256, 43346, 43421, 43496, 43600, 43705, 43749, 43600,
    43271, 43122, 42750, 42405, 42376, 42450, 42301, 42600, 42674, 42630,
    44018, 44100, 43780, 43820,
]
lin_out_mm = [
    -14.5, -14.0, -15.0, -21.4, 19.2, 23.0, 24.0, 26.0, 25.7,
    -9.9, -12.3, -11.2, -9.0, -8.5, -8.5, -14.8, -15.0, -15.6, -17.6, -17.0,
    -18.8, -19.2, -20.0, -20.5, -21.4, -21.4, -21.9, -22.8, -23.0, -23.8,
    -19.2, -21.9, -22.4, -20.5, -17.4, -15.0, -13.3, -12.3, -13.8, -14.2,
    -9.9, -10.9, -9.0, -7.0, -7.0, 11.3, 12.8,
    -7.0, -7.3, -6.2, -8.0, -8.5, -9.8, -11.2, -11.9, -12.6, -13.0,
    -12.3, -11.9, -11.9, -11.9, -14.2, -13.5, -13.3, -13.3, -16.4, -21.4,
    -9.5, -7.0, -10.6, -13.5, -9.5, -10.9, -12.3, -13.5, -16.6, -21.9,
    -28.4, 15.2, 14.5,
    -27.7, -25.7, -22.8, -23.4, -24.8, -20.2, -29.0, -27.0, -22.0, -22.0,
    -21.2, -20.2, -19.0, -17.0, -17.0, -17.0, -16.6, -18.0, -18.5, -18.4,
    -21.4, -21.6, -23.4, -25.3, -22.8, -22.4, -24.5, -21.4, -20.5, -19.2,
    -19.2, -19.2, -20.6, -18.8, -18.0, -18.0, -19.0, -21.2, -10.9, -11.2,
    -10.5, -12.3, -13.7, -14.6, -13.7, -12.6, -12.8, -13.7, -14.6, -11.4,
    -9.5, -8.3, -8.5, -8.5, -10.5, -12.3, -11.9, -9.5, -11.9, -26.9,
    -18.4, -17.6, 13.9, 14.5,
]

# isolated quadratic-interpolation outliers
quad_out_t = [
    41390, 41465, 41690, 41690, 41690, 41840, 41840, 42140, 42255, 42330,
    42510, 42600, 42660, 42555, 42585, 42750, 42825, 42880, 42970, 43080,
    43120, 43180, 42930, 42405, 42180, 42285, 42585, 42600, 42898, 43451,
    43705, 43944, 40810,
    43255, 43380, 43420, 43555, 43795, 43870, 44000, 44080, 44090, 43255,
    43420, 43630, 43780, 43945,
]
quad_out_mm = [
    -10.5, -10.5, -11.3, -15.6, -16.3, -16.0, -15.4, -15.6, -16.2, -14.0,
    -16.2, -18.8, -18.8, -20.6, -19.0, -15.2, -15.2, -14.0, -14.0, -15.2,
    -16.2, -19.2, -15.8, -7.6, -14.9, -16.2, -21.2, -21.0, -13.5, -8.0,
    -7.6, -10.5, -6.6,
    15.6, 14.5, 14.5, 14.5, 13.5, 14.6, 14.6, 13.5, 15.2, 11.8,
    11.8, 10.6, 12.5, 13.3,
]

# === Flatten to metres ===
lin_t, lin_y = [], []
for t, ys in zip(epochs, lin_mm):
    lin_t += [t] * len(ys)
    lin_y += [v / 1000 for v in ys]
lin_t += lin_out_t
lin_y += [v / 1000 for v in lin_out_mm]

quad_t, quad_y = [], []
for ep, vals in [(epochs, quad_mm), (epochs_b, quad_mm_b)]:
    for t, ys in zip(ep, vals):
        quad_t += [t] * len(ys)
        quad_y += [v / 1000 for v in ys]
quad_t += quad_out_t
quad_y += [v / 1000 for v in quad_out_mm]

# === Plotting ===
label_font = ['Liberation Sans', 'DejaVu Sans']
red = '#d8442c'
blue = '#3b7dd6'
brown = '#b4693a'

fig = plt.figure(figsize=(6.47, 5.0), dpi=100, facecolor='#e6e3dc')
ax = fig.add_axes([0.1607, 0.114, 0.8316, 0.836])
ax.set_facecolor('white')

ax.plot(lin_t, lin_y, linestyle='none', marker='+', markersize=5.5, markeredgewidth=1.3,
        color=red, label='DELF: LINEAR IONO INTERPOLATION ERROR', zorder=3)
ax.axhline(-0.027, color=brown, lw=2.0, label='-0.027', zorder=4)
ax.axhline(0.027, color=brown, lw=2.0, label='0.027', zorder=4)
ax.plot(quad_t, quad_y, linestyle='none', marker='s', markersize=3.8, markeredgewidth=0,
        color=blue, label='DELF: QUADRATIC IONO INTERPOLATION ERROR', zorder=5)

ax.set_xlim(36120, 44120)
ax.set_ylim(-0.03, 0.03)

ax.set_xticks([37000, 39000, 41000, 43000])
ax.set_xticklabels(['37000', '39000', '41000', '43000'], family=label_font, fontsize=13)
ax.set_xticks([38000, 40000, 42000, 44000], minor=True)
y_ticks = [0.03, 0.02, 0.01, 0, -0.01, -0.02, -0.03]
ax.set_yticks(y_ticks)
ax.set_yticklabels(['0.03', '0.02', '0.01', '0', '-0.01', '-0.02', '-0.03'], family=label_font, fontsize=13)

ax.tick_params(which='both', direction='in', top=True, right=True, length=4, width=0.8,
               color='#888888', pad=5, labelcolor='#222222')
ax.grid(True, which='both', color='#b8b8b8', lw=0.8, linestyle=(0, (1, 2)))
ax.set_axisbelow(True)

for side in ['left', 'bottom']:
    ax.spines[side].set_color('#777777')
    ax.spines[side].set_linewidth(1.6)
for side in ['top', 'right']:
    ax.spines[side].set_color('#aaaaaa')
    ax.spines[side].set_linewidth(0.8)

ax.set_xlabel('GPS Time (seconds of day)', family=label_font, fontsize=13, color='#222222', labelpad=8)
ax.set_ylabel('User Iona Slant Interpolation Errors / meters', family=label_font, fontsize=13,
              color='#222222', labelpad=10)

leg = ax.legend(loc='upper right', bbox_to_anchor=(0.968, 0.99), frameon=False, markerfirst=False,
                numpoints=1, handlelength=3.2, handletextpad=0.5, labelspacing=0.0,
                borderaxespad=0, borderpad=0,
                prop={'family': 'DejaVu Sans Mono', 'size': 9.5})
for txt in leg.get_texts():
    txt.set_color('#555555')

plt.savefig('out.png', dpi=100, facecolor=fig.get_facecolor())
plt.close()
